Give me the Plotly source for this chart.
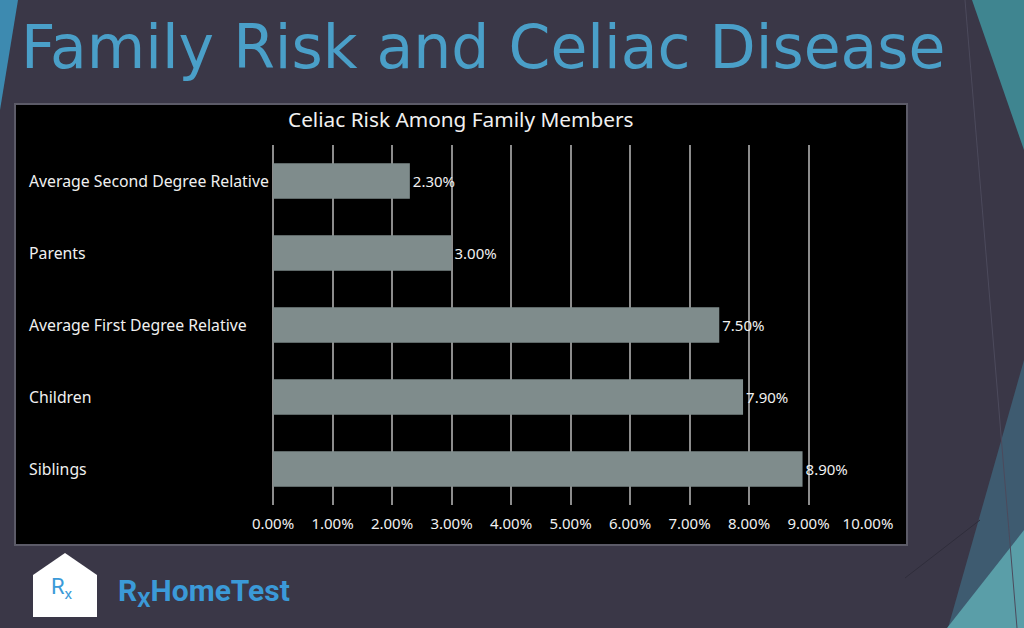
import plotly.graph_objects as go

W, H = 1024, 628

# data (top to bottom as shown)
relatives = ["Average Second Degree Relative", "Parents", "Average First Degree Relative",
             "Children", "Siblings"]
risk_pct = [2.3, 3.0, 7.5, 7.9, 8.9]

page_title = "Family Risk and Celiac Disease"
chart_title = "Celiac Risk Among Family Members"


def px_x(x):
    return x / W


def px_y(y):
    return 1 - y / H


bg = "#3a3747"
font_chart = "Noto Sans"

fig = go.Figure()
fig.add_trace(go.Bar(
    x=risk_pct, y=relatives, orientation="h",
    marker=dict(color="#7f8c8c", line=dict(width=0)),
    texttemplate="%{x:.2f}%", textposition="outside",
    textfont=dict(color="#f0f0f0", size=15, family=font_chart),
    cliponaxis=False, hoverinfo="skip",
))

# category labels, left aligned like the original
annotations = []
for name in relatives:
    annotations.append(dict(
        x=px_x(27), xref="paper", xanchor="left", y=name, yref="y",
        text=name, showarrow=False,
        font=dict(color="#f0f0f0", size=15.8, family=font_chart),
    ))

annotations += [
    dict(x=px_x(19), y=px_y(47), xref="paper", yref="paper", xanchor="left", yanchor="middle",
         text=page_title, showarrow=False,
         font=dict(color="#4a9fc8", size=60, family="DejaVu Sans")),
    dict(x=px_x(461), y=px_y(119), xref="paper", yref="paper", xanchor="center", yanchor="middle",
         text=chart_title, showarrow=False,
         font=dict(color="#f0f0f0", size=20.8, family=font_chart)),
    dict(x=px_x(62), y=px_y(588), xref="paper", yref="paper", xanchor="center", yanchor="middle",
         text="R<sub>x</sub>", showarrow=False,
         font=dict(color="#3b9ad8", size=22, family="Roboto")),
    dict(x=px_x(116), y=px_y(592), xref="paper", yref="paper", xanchor="left", yanchor="middle",
         text="<b>R<sub>X</sub>HomeTest</b>", showarrow=False,
         font=dict(color="#3b9ad8", size=30, family="Roboto")),
]


def poly(points, color, **kw):
    path = "M " + " L ".join(f"{px_x(x)},{px_y(y)}" for x, y in points) + " Z"
    return dict(type="path", path=path, xref="paper", yref="paper",
                fillcolor=color, line=dict(width=0), layer="below", **kw)


shapes = [
    poly([(0, 0), (18, 0), (0, 110)], "#3d8ab0"),
    poly([(972, 0), (1024, 0), (1024, 150)], "#3f8590"),
    poly([(1024, 360), (948, 628), (1024, 628)], "#3e5b70"),
    poly([(1024, 530), (947, 628), (1024, 628)], "#5a9ea8"),
    dict(type="line", xref="paper", yref="paper", x0=px_x(965), y0=px_y(0), x1=px_x(1017), y1=px_y(628),
         line=dict(color="#4c4a5c", width=1), layer="below"),
    dict(type="line", xref="paper", yref="paper", x0=px_x(905), y0=px_y(578), x1=px_x(980), y1=px_y(520),
         line=dict(color="#2f2d3b", width=1), layer="below"),
    # chart box
    dict(type="rect", xref="paper", yref="paper", x0=px_x(15), y0=px_y(104), x1=px_x(907), y1=px_y(545),
         fillcolor="black", line=dict(color="#5c5b68", width=2), layer="below"),
    # logo house
    poly([(33, 575), (65, 553), (97, 575), (97, 617), (33, 617)], "white"),
]

fig.update_layout(
    width=W, height=H, autosize=False,
    margin=dict(l=0, r=0, t=0, b=0, pad=0, autoexpand=False),
    paper_bgcolor=bg, plot_bgcolor="black",
    showlegend=False, bargap=0.51,
    xaxis=dict(domain=[px_x(273), px_x(868)], range=[0, 10], dtick=1,
               tickformat=".2f", ticksuffix="%", automargin=False,
               showgrid=True, gridcolor="#8c8c8c", gridwidth=2,
               zeroline=True, zerolinecolor="#8c8c8c", zerolinewidth=2,
               showline=False, ticks="", ticklabelstandoff=8,
               tickfont=dict(color="#f0f0f0", size=15, family=font_chart)),
    yaxis=dict(domain=[px_y(505), px_y(145)], autorange="reversed", automargin=False,
               showticklabels=False, showgrid=False, zeroline=False, showline=False),
    annotations=annotations,
    shapes=shapes,
)

fig.write_html("out.html", config={"displayModeBar": False},
               post_script="document.body.style.margin='0';document.body.style.overflow='hidden';")
